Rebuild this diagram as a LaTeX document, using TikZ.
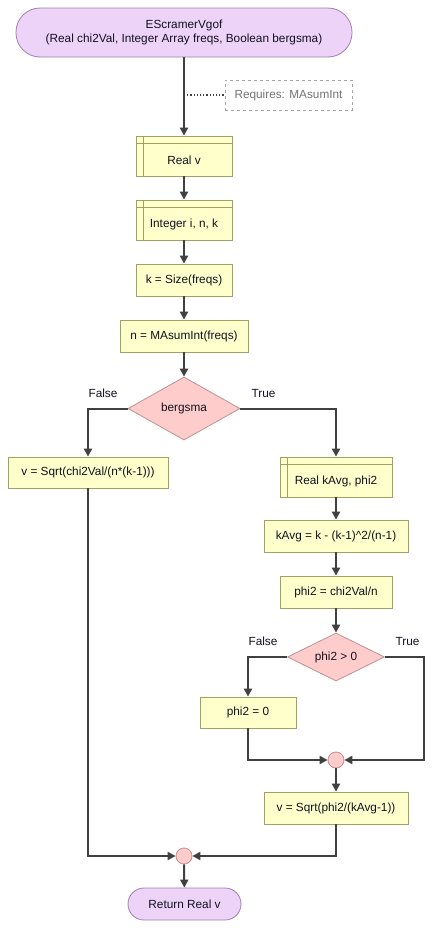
\documentclass[tikz,border=0pt]{standalone}
\usepackage{fontspec}
\setmainfont{Liberation Sans}
\usetikzlibrary{arrows.meta,shapes.geometric}
\definecolor{termfill}{HTML}{EED3F8}
\definecolor{termdraw}{HTML}{A080B0}
\definecolor{boxfill}{HTML}{FFFFCC}
\definecolor{boxdraw}{HTML}{A0A060}
\definecolor{decfill}{HTML}{FFCCCC}
\definecolor{decdraw}{HTML}{C09090}
\definecolor{linecol}{HTML}{404040}
\definecolor{txt}{HTML}{101020}
\begin{document}
\begin{tikzpicture}[x=1pt,y=-1pt,
  every node/.style={font=\fontsize{11.8}{14}\selectfont, text=txt, inner sep=0pt},
  term/.style={draw=termdraw, fill=termfill, rounded corners=16pt, line width=0.8pt, align=center},
  procbox/.style={draw=boxdraw, fill=boxfill, line width=0.8pt},
  decbox/.style={diamond, aspect=2, draw=decdraw, fill=decfill, line width=0.8pt},
  mergec/.style={circle, draw=decdraw, fill=decfill, line width=0.8pt, minimum size=16pt},
  arr/.style={draw=linecol, line width=2pt, -{Triangle[length=8pt,width=8pt]}},
  lbl/.style={font=\fontsize{11.8}{14}\selectfont}
]
\useasboundingbox (0,0) rectangle (433,929);
\fill[white] (0,0) rectangle (433,929);

\node[term, rounded corners=24pt, minimum width=336pt, minimum height=49pt] (start) at (184,32.5)
  {EScramerVgof\\(Real chi2Val, Integer Array freqs, Boolean bergsma)};
\node[draw=gray!70, dashed, line width=0.7pt, minimum width=127pt, minimum height=30pt, text=gray!90!black] (req) at (288.5,95) {Requires: MAsumInt};

\node[procbox, minimum width=96pt, minimum height=40pt] (realv) at (184,156) {};
\node at ([yshift=-4pt]realv.center) {Real v};
\node[procbox, minimum width=96pt, minimum height=40pt] (intv) at (184,220) {};
\node at ([yshift=-4pt]intv.center) {Integer i, n, k};
\node[procbox, minimum width=96pt, minimum height=32pt] (ksz) at (184,280) {k = Size(freqs)};
\node[procbox, minimum width=128pt, minimum height=32pt] (nsum) at (184,336) {n = MAsumInt(freqs)};
\node[decbox, minimum width=112pt, minimum height=63pt] (d1) at (184,408.5) {bergsma};

\node[procbox, minimum width=160pt, minimum height=31pt] (vl) at (88,472.5) {v = Sqrt(chi2Val/(n*(k-1)))};
\node[procbox, minimum width=112pt, minimum height=40pt] (rk) at (336,477) {};
\node at ([yshift=-4pt]rk.center) {Real kAvg, phi2};
\node[procbox, minimum width=144pt, minimum height=32pt] (kavg) at (336,536) {kAvg = k - (k-1)\^{}2/(n-1)};
\node[procbox, minimum width=112pt, minimum height=32pt] (phi) at (336,592) {phi2 = chi2Val/n};
\node[decbox, minimum width=97pt, minimum height=48pt] (d2) at (336,657) {phi2 > 0};
\node[procbox, minimum width=96pt, minimum height=31pt] (p0) at (248,712.5) {phi2 = 0};
\node[mergec] (m1) at (336,760) {};
\node[procbox, minimum width=144pt, minimum height=32pt] (vr) at (336,808) {v = Sqrt(phi2/(kAvg-1))};
\node[mergec] (m2) at (184,856) {};
\node[term, minimum width=113pt, minimum height=32pt] (ret) at (184.5,904) {Return Real v};

% inner lines of declaration boxes
\foreach \b in {realv,intv,rk}{
  \draw[boxdraw, line width=0.8pt] ([xshift=8pt]\b.north west) -- ([xshift=8pt]\b.south west);
  \draw[boxdraw, line width=0.8pt] ([yshift=-8pt]\b.north west) -- ([yshift=-8pt]\b.north east);
}

% labels
\node[lbl] (lf1) at (103,393) {False};
\node[lbl] (lt1) at (263.5,393) {True};
\node[lbl] (lf2) at (263,641) {False};
\node[lbl] (lt2) at (407.5,641) {True};

% connectors
\draw[arr] (start.south) -- (realv.north);
\draw[draw=linecol, line width=1.2pt, dotted] (req.west -| realv.north) -- (req.west);
\draw[arr] (realv) -- (intv);
\draw[arr] (intv) -- (ksz);
\draw[arr] (ksz) -- (nsum);
\draw[arr] (nsum) -- (d1);
\draw[arr] (d1.west) -| (vl.north);
\draw[arr] (d1.east) -| (rk.north);
\draw[arr] (rk) -- (kavg);
\draw[arr] (kavg) -- (phi);
\draw[arr] (phi) -- (d2);
\draw[arr] (d2.west) -| (p0.north);
\draw[arr] (d2.east) -- ++(39.5,0) |- (m1.east);
\draw[arr] (p0.south) |- (m1.west);
\draw[arr] (m1) -- (vr);
\draw[arr] (vr.south) |- (m2.east);
\draw[arr] (vl.south) |- (m2.west);
\draw[arr] (m2) -- (ret);
\end{tikzpicture}
\end{document}
